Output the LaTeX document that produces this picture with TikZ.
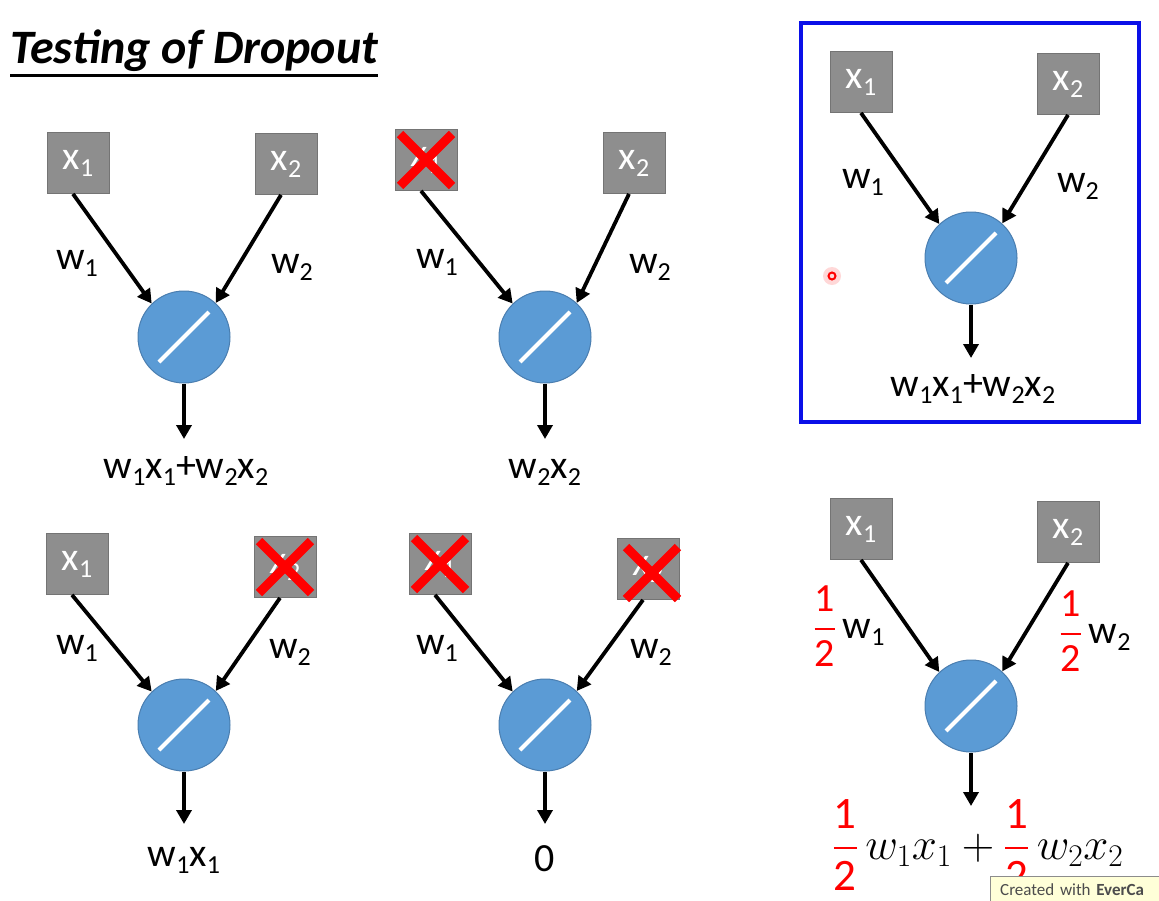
\RequirePackage{fix-cm}
\documentclass[tikz,border=0pt]{standalone}
\usepackage{amsmath}
\usepackage{fontspec}
\setmainfont{Carlito}
\usetikzlibrary{arrows.meta}
\definecolor{boxgray}{HTML}{8E8E8E}
\definecolor{boxedge}{HTML}{747474}
\definecolor{nblue}{HTML}{5B9BD5}
\definecolor{nedge}{HTML}{4A7EB0}
\definecolor{xred}{HTML}{FF0000}
\definecolor{frameblue}{HTML}{0A10E8}
\definecolor{tipyellow}{HTML}{FFFFD8}
\newcommand{\lab}{\fontsize{40}{44}\selectfont}
\newcommand{\dn}[1]{\raisebox{-7pt}{\fontsize{26}{26}\selectfont #1}}
\newcommand{\half}{\textcolor{xred}{\genfrac{}{}{2.2pt}{0}{\text{1}}{\text{2}}}}
\tikzset{
  inbox/.style={rectangle, fill=boxgray, draw=boxedge, line width=0.8, minimum width=62, minimum height=61, inner sep=0, text=white, font=\lab},
  neuron/.style={circle, fill=nblue, draw=nedge, line width=1, minimum size=92, inner sep=0},
  conn/.style={line width=3.8, -{Triangle[width=15,length=14]}},
  slash/.style={white, line width=4},
  cross/.style={xred, line width=9},
  wlab/.style={font=\lab, inner sep=0},
  outlab/.style={font=\lab, inner sep=0, anchor=base},
}
\newcommand{\slashin}[1]{\draw[slash] ([shift={(-25,25)}]#1.center) -- ([shift={(25,-25)}]#1.center);}
\newcommand{\crossat}[3]{\draw[cross] ([shift={(#2-26,#3-26)}]#1.center) -- ([shift={(#2+26,#3+26)}]#1.center);
  \draw[cross] ([shift={(#2+26,#3-26)}]#1.center) -- ([shift={(#2-26,#3+26)}]#1.center);}
\begin{document}
\begin{tikzpicture}[x=1pt,y=-1pt]
\useasboundingbox (0,0) rectangle (1159,900);
\fill[white] (0,0) rectangle (1159,900);

% title
\node[anchor=base west, inner sep=0, font=\fontsize{48}{52}\selectfont\bfseries\itshape] (title) at (10,63) {Testing of Dropout};
\draw[line width=2.5] ([yshift=-4]title.south west) -- ([yshift=-4]title.south east);

% ---------- panel 1 ----------
\node[inbox] (a1) at (78,163) {x\dn{1}};
\node[inbox] (a2) at (286,164) {x\dn{2}};
\node[neuron] (an) at (184,337) {};
\slashin{an}
\draw[conn] ([xshift=-5]a1.south) -- (an.134);
\draw[conn] ([xshift=-5]a2.south) -- (an.47);
\node[wlab] (aw1) at (77,263) {w\dn{1}};
\node[wlab] (aw2) at (292,267) {w\dn{2}};
\coordinate (at) at (184,439);
\draw[conn] (an.south) -- (at);
\node[outlab] (ao) at (186,478) {w\dn{1}x\dn{1}+w\dn{2}x\dn{2}};

% ---------- panel 2 ----------
\node[inbox] (b1) at (426,160) {x\dn{1}};
\node[inbox] (b2) at (634,163) {x\dn{2}};
\crossat{b1}{0}{0}
\node[neuron] (bn) at (545,337) {};
\slashin{bn}
\draw[conn] ([xshift=-5]b1.south) -- (bn.134);
\draw[conn] ([xshift=-5]b2.south) -- (bn.47);
\node[wlab] (bw1) at (437,262) {w\dn{1}};
\node[wlab] (bw2) at (650,267) {w\dn{2}};
\coordinate (bt) at (545,439);
\draw[conn] (bn.south) -- (bt);
\node[outlab] (bo) at (545,478) {w\dn{2}x\dn{2}};

% ---------- panel 3 ----------
\node[inbox] (c1) at (77,564) {x\dn{1}};
\node[inbox] (c2) at (285,567) {x\dn{2}};
\crossat{c2}{0}{0}
\node[neuron] (cn) at (184,725) {};
\slashin{cn}
\draw[conn] ([xshift=-5]c1.south) -- (cn.134);
\draw[conn] ([xshift=-5]c2.south) -- (cn.47);
\node[wlab] (cw1) at (77,648) {w\dn{1}};
\node[wlab] (cw2) at (290,652) {w\dn{2}};
\coordinate (ct) at (184,824);
\draw[conn] (cn.south) -- (ct);
\node[outlab] (co) at (184,866) {w\dn{1}x\dn{1}};

% ---------- panel 4 ----------
\node[inbox] (d1) at (440,564) {x\dn{1}};
\node[inbox] (d2) at (648,569) {x\dn{2}};
\crossat{d1}{0}{0}
\crossat{d2}{4}{4}
\node[neuron] (dn) at (545,725) {};
\slashin{dn}
\draw[conn] ([xshift=-5]d1.south) -- (dn.134);
\draw[conn] ([xshift=-5]d2.south) -- (dn.47);
\node[wlab] (dw1) at (437,648) {w\dn{1}};
\node[wlab] (dw2) at (651,652) {w\dn{2}};
\coordinate (dt) at (545,824);
\draw[conn] (dn.south) -- (dt);
\node[outlab] (do) at (545,871) {0};

% ---------- panel 5 (framed) ----------
\draw[frameblue, line width=4] (801,23) rectangle (1139,422);
\node[inbox] (e1) at (861,82) {x\dn{1}};
\node[inbox] (e2) at (1068,84) {x\dn{2}};
\node[neuron] (en) at (971,258) {};
\slashin{en}
\draw[conn] (e1.south) -- (en.133);
\draw[conn] (e2.south) -- (en.48);
\node[wlab] (ew1) at (863,182) {w\dn{1}};
\node[wlab] (ew2) at (1078,186) {w\dn{2}};
\coordinate (et) at (971,358);
\draw[conn] (en.south) -- (et);
\node[outlab] (eo) at (973,396) {w\dn{1}x\dn{1}+w\dn{2}x\dn{2}};
% cursor mark
\fill[xred!25, opacity=0.6] (832,276) circle (9);
\draw[xred, line width=2] (832,276) circle (3.5);

% ---------- panel 6 ----------
\node[inbox] (f1) at (861,529) {x\dn{1}};
\node[inbox] (f2) at (1068,532) {x\dn{2}};
\node[neuron] (fn) at (971,706) {};
\slashin{fn}
\draw[conn] (f1.south) -- (fn.133);
\draw[conn] (f2.south) -- (fn.48);
\node[wlab] (fw1) at (849,626) {$\half$\,w\dn{1}};
\node[wlab] (fw2) at (1095,631) {$\half$\,w\dn{2}};
\coordinate (ft) at (971,806);
\draw[conn] (fn.south) -- (ft);
\node[inner sep=0, font=\fontsize{45}{50}\selectfont] (fo) at (978,845) {$\half\, w_1x_1+\half\, w_2x_2$};

% tooltip
\node[anchor=north west, draw=black!45, fill=tipyellow, inner xsep=10, inner ysep=4, minimum height=26, minimum width=200, text=black!70, align=left, text width=180, font=\fontsize{17}{19}\selectfont] (tip) at (990,876) {Created with \textbf{EverCa}};
\end{tikzpicture}
\end{document}
